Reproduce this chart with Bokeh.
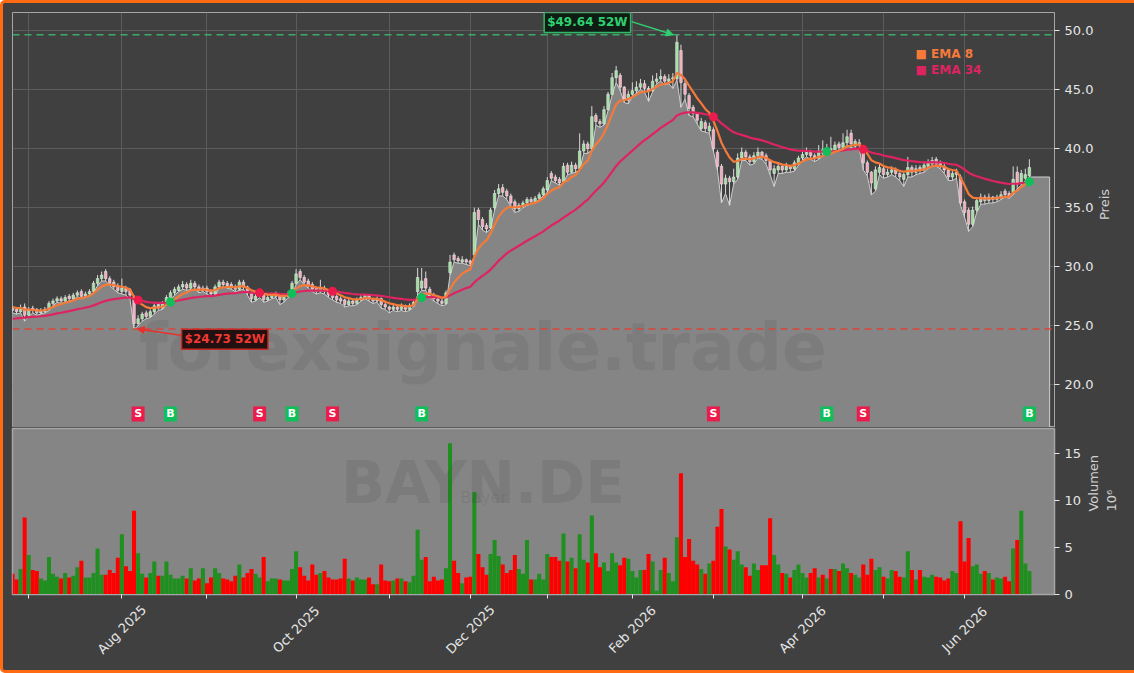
import math
from bokeh.plotting import figure
from bokeh.layouts import column
from bokeh.models import (ColumnDataSource, Range1d, FixedTicker, Span, Label,
                          Arrow, NormalHead, Grid, PrintfTickFormatter)
from bokeh.embed import file_html
from bokeh.resources import INLINE

# ---------------- data ----------------
opens = [
    26.5, 26.4, 26.2, 26.6, 25.9, 26.5, 26.4, 26.1, 26.2, 26.4,
    26.9, 27.1, 27.3, 27.1, 27.5, 27.3, 27.6, 27.9, 27.5, 27.7,
    27.9, 28.6, 29.0, 29.6, 29.0, 28.7, 28.4, 27.9, 28.2, 28.0,
    27.4, 25.2, 25.6, 26.1, 25.8, 26.2, 26.8, 26.5, 26.9, 27.3,
    27.8, 28.0, 28.3, 28.5, 28.2, 28.6, 28.3, 28.0, 28.2, 27.9,
    27.7, 28.3, 28.7, 28.6, 28.5, 28.3, 28.1, 28.7, 28.3, 27.8,
    27.2, 27.5, 27.7, 27.2, 27.4, 27.5, 27.6, 27.2, 27.5, 27.7,
    28.6, 29.6, 29.1, 28.8, 28.5, 28.2, 27.9, 28.2, 27.9, 27.6,
    27.5, 27.3, 27.2, 26.8, 27.1, 26.9, 27.2, 27.4, 27.6, 27.3,
    27.1, 27.3, 26.8, 26.6, 26.4, 26.6, 26.4, 26.7, 26.4, 26.7,
    27.9, 28.2, 29.0, 28.1, 27.6, 27.3, 27.1, 26.9, 29.5, 31.0,
    30.7, 30.4, 30.6, 30.5, 31.0, 34.8, 34.0, 33.5, 33.3, 35.0,
    36.2, 36.7, 36.4, 36.0, 35.5, 34.9, 35.2, 35.4, 35.7, 35.5,
    35.8, 36.1, 36.5, 37.9, 37.6, 37.4, 37.2, 38.6, 38.0, 38.6,
    38.3, 39.8, 40.4, 40.0, 42.8, 42.3, 42.1, 43.3, 44.6, 46.0,
    46.2, 45.2, 44.1, 44.6, 44.9, 45.2, 45.5, 45.1, 44.9, 45.7,
    45.9, 46.1, 45.7, 45.9, 45.9, 48.3, 45.5, 44.5, 43.5, 43.0,
    41.7, 42.2, 41.5, 41.6, 39.7, 38.5, 37.0, 37.5, 37.2, 37.6,
    39.2, 39.7, 39.3, 38.9, 39.4, 39.7, 39.4, 39.0, 37.9, 38.2,
    38.5, 38.2, 38.5, 38.3, 38.8, 39.2, 39.5, 39.7, 39.4, 39.2,
    39.9, 39.6, 40.0, 39.8, 40.4, 40.1, 40.5, 41.3, 40.2, 40.4,
    39.9, 38.8, 38.0, 36.6, 38.0, 38.3, 37.8, 38.0, 38.2, 37.9,
    37.4, 37.8, 38.4, 38.0, 38.4, 38.2, 38.5, 38.7, 39.1, 38.8,
    38.5, 38.2, 37.6, 37.8, 37.6, 35.5, 34.8, 33.6, 34.8, 35.5,
    35.9, 35.6, 35.9, 35.7, 35.9, 36.4, 36.2, 36.2, 38.0, 37.1,
    37.5, 37.7,
]
highs = [
    26.7, 26.6, 26.8, 26.9, 26.6, 26.7, 26.5, 26.5, 26.6, 27.1,
    27.3, 27.5, 27.5, 27.6, 27.7, 27.8, 28.0, 28.1, 27.9, 28.1,
    28.8, 29.3, 29.6, 29.8, 29.2, 28.9, 28.6, 29.0, 28.4, 28.2,
    27.6, 25.9, 26.2, 26.3, 26.4, 26.9, 27.0, 27.1, 27.6, 28.0,
    28.3, 28.5, 28.8, 28.7, 28.9, 28.8, 28.5, 28.4, 28.4, 28.1,
    28.5, 28.9, 28.9, 28.8, 28.7, 28.5, 28.9, 28.9, 28.4, 27.9,
    27.7, 27.9, 27.8, 27.6, 27.8, 27.9, 27.7, 27.7, 27.9, 28.8,
    29.8, 29.8, 29.3, 29.0, 28.7, 28.3, 28.9, 28.4, 28.0, 27.7,
    27.6, 27.5, 27.3, 27.3, 27.2, 27.4, 27.6, 27.7, 27.7, 27.4,
    27.5, 27.4, 27.0, 26.7, 26.8, 26.8, 26.9, 26.8, 26.9, 27.2,
    29.9, 29.9, 29.6, 28.3, 27.8, 27.5, 27.3, 28.0, 31.0, 31.2,
    30.9, 30.9, 30.7, 30.6, 35.0, 35.0, 34.2, 33.7, 35.0, 36.5,
    37.0, 37.0, 36.6, 36.2, 35.7, 35.4, 35.6, 35.9, 35.9, 36.0,
    36.3, 36.8, 37.6, 38.1, 37.8, 37.6, 38.8, 38.8, 38.9, 38.8,
    41.3, 40.7, 40.6, 43.6, 43.0, 42.5, 43.6, 44.8, 46.4, 47.0,
    46.4, 45.3, 44.9, 45.6, 45.7, 45.9, 45.8, 45.3, 46.2, 46.4,
    46.7, 46.3, 46.3, 46.4, 49.64, 48.8, 45.8, 44.7, 43.7, 43.1,
    42.6, 42.4, 42.2, 41.8, 39.9, 38.7, 37.8, 37.7, 38.3, 39.6,
    40.1, 39.9, 39.5, 39.7, 40.1, 39.8, 39.6, 39.1, 38.6, 38.8,
    38.7, 38.8, 38.6, 39.0, 39.4, 39.8, 40.1, 39.9, 39.6, 40.3,
    40.7, 40.4, 41.0, 40.6, 40.6, 41.3, 41.6, 41.6, 40.8, 40.8,
    40.1, 39.0, 38.1, 38.5, 38.7, 38.5, 38.3, 38.5, 38.4, 38.0,
    38.0, 39.3, 38.6, 38.6, 38.6, 38.9, 39.1, 39.3, 39.3, 39.0,
    38.7, 38.3, 38.1, 38.3, 37.8, 35.7, 35.0, 35.1, 35.9, 36.2,
    36.1, 36.2, 36.0, 36.1, 36.4, 36.6, 36.4, 38.5, 38.5, 38.2,
    38.3, 39.1,
]
lows = [
    26.1, 26.0, 26.1, 25.4, 25.8, 26.1, 25.9, 26.0, 26.1, 26.3,
    26.7, 27.0, 26.9, 27.0, 27.1, 27.2, 27.5, 27.3, 27.4, 27.6,
    27.8, 28.4, 28.8, 28.8, 28.4, 28.1, 27.8, 27.7, 27.6, 27.3,
    24.73, 25.0, 25.4, 25.6, 25.7, 26.0, 26.3, 26.4, 26.8, 27.2,
    27.6, 27.9, 28.1, 28.0, 28.1, 28.1, 27.8, 27.9, 27.7, 27.5,
    27.6, 28.2, 28.3, 28.2, 28.1, 27.9, 28.0, 28.1, 27.6, 27.0,
    27.1, 27.4, 27.0, 27.1, 27.3, 27.4, 26.8, 27.0, 27.4, 27.6,
    28.5, 28.9, 28.5, 28.2, 27.9, 27.7, 27.8, 27.7, 27.4, 27.2,
    27.0, 26.9, 26.6, 26.7, 26.7, 26.8, 27.1, 27.3, 27.1, 26.9,
    27.0, 26.5, 26.4, 26.1, 26.3, 26.2, 26.3, 26.2, 26.3, 26.6,
    27.6, 28.0, 28.0, 27.4, 27.1, 26.9, 26.7, 26.8, 29.3, 30.4,
    30.3, 30.3, 30.2, 30.1, 30.9, 33.6, 33.1, 32.9, 33.2, 34.8,
    36.0, 36.0, 35.7, 35.1, 34.6, 34.7, 35.0, 35.2, 35.3, 35.4,
    35.7, 36.0, 36.3, 37.3, 37.1, 36.9, 37.1, 37.8, 37.9, 38.0,
    38.2, 39.6, 39.6, 39.9, 42.0, 41.8, 42.0, 43.2, 44.5, 45.6,
    44.9, 43.9, 43.8, 44.4, 44.7, 45.0, 44.8, 44.0, 44.8, 45.5,
    45.7, 45.4, 45.5, 45.1, 45.8, 43.5, 44.2, 42.8, 42.7, 42.1,
    41.5, 41.4, 41.3, 39.8, 38.2, 35.4, 36.2, 35.2, 37.0, 37.4,
    39.0, 39.0, 38.6, 38.7, 39.2, 39.1, 38.7, 37.8, 36.8, 37.9,
    37.9, 38.0, 38.0, 38.1, 38.6, 39.0, 39.3, 39.1, 38.9, 39.1,
    39.4, 39.5, 39.6, 39.7, 39.9, 40.0, 40.3, 40.1, 40.0, 40.0,
    38.2, 37.7, 36.1, 36.4, 37.8, 37.5, 37.6, 37.8, 37.6, 37.3,
    36.8, 37.6, 37.6, 37.8, 37.9, 38.0, 38.3, 38.5, 38.5, 38.3,
    37.9, 37.3, 37.3, 37.5, 35.2, 34.2, 33.0, 33.4, 34.6, 35.3,
    35.3, 35.4, 35.4, 35.5, 35.7, 35.9, 35.8, 36.1, 36.6, 36.9,
    37.3, 37.6,
]
closes = [
    26.3, 26.2, 26.5, 25.9, 26.4, 26.3, 26.1, 26.3, 26.4, 26.9,
    27.1, 27.3, 27.1, 27.4, 27.3, 27.6, 27.8, 27.5, 27.7, 27.9,
    28.6, 29.0, 29.3, 29.0, 28.6, 28.3, 28.0, 28.2, 27.9, 27.6,
    25.2, 25.6, 26.0, 25.8, 26.2, 26.7, 26.5, 26.9, 27.4, 27.8,
    28.1, 28.3, 28.5, 28.2, 28.6, 28.3, 28.0, 28.2, 27.9, 27.7,
    28.3, 28.7, 28.5, 28.4, 28.3, 28.1, 28.7, 28.3, 27.8, 27.3,
    27.5, 27.7, 27.2, 27.4, 27.6, 27.7, 27.2, 27.5, 27.7, 28.6,
    29.4, 29.1, 28.7, 28.4, 28.1, 27.9, 28.2, 27.9, 27.6, 27.4,
    27.2, 27.1, 26.8, 27.1, 26.9, 27.2, 27.4, 27.6, 27.3, 27.1,
    27.3, 26.8, 26.6, 26.4, 26.6, 26.4, 26.7, 26.4, 26.7, 27.0,
    29.1, 28.8, 28.2, 27.6, 27.3, 27.1, 26.9, 27.8, 30.4, 30.6,
    30.5, 30.6, 30.4, 30.3, 34.6, 34.0, 33.4, 33.2, 34.8, 36.2,
    36.6, 36.3, 36.0, 35.4, 34.9, 35.2, 35.4, 35.7, 35.5, 35.8,
    36.1, 36.6, 37.3, 37.5, 37.3, 37.1, 38.5, 38.0, 38.6, 38.3,
    39.8, 40.4, 40.0, 42.7, 42.3, 42.1, 43.3, 44.6, 46.0, 46.6,
    45.2, 44.2, 44.6, 44.9, 45.2, 45.5, 45.1, 44.9, 45.7, 45.9,
    46.1, 45.7, 45.9, 46.0, 49.0, 45.6, 44.6, 43.4, 43.0, 42.4,
    42.3, 41.7, 41.9, 40.0, 38.5, 37.0, 37.5, 37.2, 37.6, 39.2,
    39.7, 39.3, 38.9, 39.4, 39.7, 39.4, 39.0, 38.2, 38.3, 38.5,
    38.2, 38.5, 38.3, 38.8, 39.2, 39.5, 39.7, 39.4, 39.2, 39.8,
    39.6, 40.0, 39.8, 40.3, 40.1, 40.5, 41.0, 40.4, 40.6, 40.5,
    38.8, 38.0, 37.1, 38.2, 38.4, 37.8, 38.0, 38.2, 37.9, 37.6,
    37.8, 38.4, 38.0, 38.3, 38.2, 38.6, 38.8, 39.0, 38.7, 38.5,
    38.2, 37.6, 37.9, 38.0, 35.4, 34.6, 33.6, 34.8, 35.6, 35.9,
    35.6, 35.9, 35.7, 35.9, 36.1, 36.1, 36.0, 37.4, 37.0, 37.9,
    37.8, 38.4,
]
volumes_mio = [
    2.2, 1.6, 2.7, 8.2, 4.2, 2.6, 2.5, 1.7, 1.5, 4.0,
    2.2, 1.9, 1.7, 2.3, 1.8, 2.0, 2.9, 3.6, 1.8, 1.8,
    2.3, 4.9, 2.1, 2.1, 2.6, 2.3, 3.9, 6.4, 3.0, 2.5,
    8.9, 4.4, 2.2, 1.8, 2.3, 3.5, 2.0, 2.0, 3.5, 2.1,
    1.7, 1.7, 2.0, 1.7, 2.8, 1.5, 1.7, 2.8, 1.2, 1.8,
    2.8, 2.3, 1.7, 1.6, 1.4, 2.0, 3.2, 1.8, 2.3, 2.7,
    2.2, 1.8, 4.0, 1.4, 1.7, 1.7, 1.6, 1.5, 1.5, 2.7,
    4.6, 2.9, 2.0, 1.5, 3.2, 2.1, 2.3, 2.5, 1.8, 1.6,
    1.6, 1.7, 3.8, 1.7, 1.5, 1.8, 1.6, 1.6, 1.8, 1.1,
    1.1, 3.2, 1.5, 1.4, 1.5, 1.7, 1.7, 1.4, 1.3, 2.0,
    6.9, 3.7, 4.0, 1.4, 1.9, 1.5, 1.6, 2.8, 16.1, 3.6,
    2.3, 1.2, 1.8, 1.9, 10.9, 4.3, 2.9, 2.1, 4.3, 5.8,
    4.1, 3.2, 2.3, 2.6, 4.2, 2.7, 2.2, 5.8, 1.6, 1.6,
    2.2, 1.6, 4.3, 4.0, 4.0, 3.6, 6.5, 3.5, 3.9, 2.8,
    6.4, 3.7, 3.4, 8.4, 4.4, 2.9, 3.4, 2.5, 4.4, 3.4,
    3.1, 3.9, 3.8, 2.5, 1.8, 2.6, 2.6, 4.3, 3.5, 0.4,
    2.6, 3.9, 2.3, 1.4, 6.1, 12.9, 4.0, 5.9, 3.6, 3.2,
    2.7, 2.2, 3.3, 3.6, 7.2, 9.1, 5.1, 4.8, 3.7, 4.6,
    3.2, 2.9, 2.0, 3.3, 2.6, 3.1, 3.1, 8.1, 4.2, 3.2,
    2.3, 2.2, 1.8, 2.6, 3.2, 2.3, 1.8, 2.3, 2.8, 1.8,
    2.1, 1.7, 2.7, 2.7, 2.5, 3.3, 2.8, 2.3, 2.1, 1.8,
    3.2, 2.1, 3.8, 2.6, 2.9, 1.9, 1.7, 2.6, 2.5, 1.9,
    1.8, 4.6, 2.6, 1.6, 2.6, 1.9, 1.8, 2.1, 1.9, 1.8,
    1.5, 1.7, 2.5, 2.3, 7.8, 3.5, 6.0, 3.0, 3.2, 2.2,
    2.5, 2.3, 1.6, 1.8, 1.7, 1.9, 1.4, 4.9, 5.8, 8.9,
    3.3, 2.5,
]
# EMA starting levels at the first bar
ema8_start = 26.6
ema34_start = 25.6
# crossover signals (bar index, kind)
signal_index = [31, 39, 61, 69, 79, 101, 173, 201, 210, 251]
signal_kind = ["S", "B", "S", "B", "S", "B", "S", "B", "S", "B"]
# month ticks (bar index of first trading day)
month_major = [27, 70, 113, 153, 195, 235]
month_major_labels = ["Aug 2025", "Oct 2025", "Dec 2025", "Feb 2026", "Apr 2026", "Jun 2026"]
month_minor = [4, 48, 93, 132, 173, 215]
price_ticks = [20, 25, 30, 35, 40, 45, 50]
volume_ticks = [0, 5, 10, 15]

# ---------------- derived ----------------
n = len(closes)
idx = list(range(n))


def ema(vals, span, start):
    a = 2.0 / (span + 1)
    out = [start]
    for v in vals[1:]:
        out.append(a * v + (1 - a) * out[-1])
    return out


ema8 = ema(closes, 8, ema8_start)
ema34 = ema(closes, 34, ema34_start)
up = [c >= o for o, c in zip(opens, closes)]
hi_val = max(highs)
hi_idx = highs.index(hi_val)
lo_val = min(lows)
lo_idx = lows.index(lo_val)

# ---------------- style ----------------
BG = "#404040"
FILL = "#858585"
GRID = "#5c5c5c"
SPINE = "#a6a6a6"
TXT = "#e6e6e6"
FONT = "DejaVu Sans"
ORANGE = "#f57a3a"
CRIMSON = "#de2460"
UP_BODY = "#9be29b"
DN_BODY = "#f6a9bd"
WICK = "#d9d9d9"
VOL_UP = "#1f8f1f"
VOL_DN = "#ff0000"
SIG_S = "#eb1b4b"
SIG_B = "#0fbf5a"

Y0, Y1 = 16.40, 51.52
V0, V1 = 0.0, 17.66
X0, X1 = 0.0, 257.2
TICK_H = 8   # border under the volume frame that holds the tick marks
LBL_H = 68   # height (px) of the strip holding the date labels

src = ColumnDataSource(dict(
    x=idx, high=highs, low=lows,
    top=[max(o, c) for o, c in zip(opens, closes)],
    bottom=[min(o, c) for o, c in zip(opens, closes)],
    body=[UP_BODY if u else DN_BODY for u in up],
    vol=volumes_mio,
    vcol=[VOL_UP if u else VOL_DN for u in up],
))


def style_axis(ax):
    ax.axis_line_color = SPINE
    ax.major_tick_line_color = TXT
    ax.major_tick_in = 0
    ax.major_label_text_color = TXT
    ax.major_label_text_font = FONT
    ax.major_label_text_font_size = "13px"
    ax.axis_label_text_color = "#d0d0d0"
    ax.axis_label_text_font = FONT
    ax.axis_label_text_font_style = "normal"
    ax.axis_label_text_font_size = "13px"


def set_vertical_label(ax):
    try:
        ax.axis_label_orientation = math.pi / 2
    except Exception:
        pass


# ---------------- price panel ----------------
p1 = figure(frame_width=1042, frame_height=415,
            x_range=Range1d(X0, X1), y_range=Range1d(Y0, Y1),
            y_axis_location="right", x_axis_location=None,
            toolbar_location=None, output_backend="svg",
            min_border_left=9, min_border_right=77, min_border_top=9, min_border_bottom=0,
            background_fill_color=BG, border_fill_color=BG,
            outline_line_color=SPINE, outline_line_width=1)
for g in list(p1.xgrid):
    g.visible = False
p1.add_layout(Grid(dimension=0, ticker=FixedTicker(ticks=sorted(month_major + month_minor)),
                   grid_line_color=GRID, grid_line_width=1), "center")
pt = FixedTicker(ticks=price_ticks)
p1.yaxis.ticker = pt
p1.ygrid.ticker = pt
p1.ygrid.grid_line_color = GRID
p1.yaxis.formatter = PrintfTickFormatter(format="%.1f")

# gray area under the price (lows) extending past the last bar
fill_end = X1 - 1.2
fill_x = idx + [fill_end]
fill_y = lows + [lows[-1]]
p1.varea(x=fill_x, y1=Y0 - 5, y2=fill_y, fill_color=FILL)
p1.line(fill_x + [fill_end], fill_y + [Y0 - 5], line_color="#cfcfcf", line_width=1)

# watermark
p1.add_layout(Label(x=116.1, y=23.14, text="forexsignale.trade", text_align="center",
                    text_baseline="alphabetic", text_font=FONT, text_font_style="bold",
                    text_font_size="66px", text_color="#3a3a3a", text_alpha=0.11))

# candles
p1.segment(x0="x", y0="high", x1="x", y1="low", source=src, line_color=WICK, line_width=1)
p1.vbar(x="x", width=0.62, top="top", bottom="bottom", source=src,
        fill_color="body", line_color="#e8e8e8", line_width=0.6)

# EMAs
p1.line(idx, ema34, line_color=CRIMSON, line_width=2.2)
p1.line(idx, ema8, line_color=ORANGE, line_width=2.2)

# crossover dots
sig_col = [SIG_S if k == "S" else SIG_B for k in signal_kind]
p1.scatter(signal_index, [ema34[i] for i in signal_index], size=9,
           fill_color=sig_col, line_color=None)

# S/B markers
marker_level = 17.55
p1.rect(x=signal_index, y=[marker_level] * len(signal_index), width=13, height=15,
        width_units="screen", height_units="screen", fill_color=sig_col, line_color=None)
p1.text(x=signal_index, y=[marker_level] * len(signal_index), text=signal_kind,
        text_align="center", text_baseline="middle", text_color="white",
        text_font_size="11px", text_font_style="bold", text_font={"value": FONT})

# 52W lines
p1.add_layout(Span(location=hi_val, dimension="width", line_color="#3dab68",
                   line_dash="7 5", line_width=1.6))
p1.add_layout(Span(location=lo_val, dimension="width", line_color="#d9443d",
                   line_dash="7 5", line_width=1.6))

# 52W labels + arrows
p1.add_layout(Arrow(end=NormalHead(size=7, fill_color="#2fd06f", line_color="#2fd06f"),
                    x_start=152.8, y_start=50.75, x_end=hi_idx - 0.9, y_end=hi_val,
                    line_color="#2fd06f", line_width=1.5))
p1.add_layout(Label(x=141.9, y=50.68, text=f"${hi_val:.2f} 52W", text_align="center",
                    text_baseline="middle", text_font=FONT, text_font_style="bold",
                    text_font_size="12px", text_color="#2fd06f",
                    background_fill_color="#0c1a12", background_fill_alpha=0.95,
                    border_line_color="#2fb865", border_line_width=1.5, padding=3))
p1.add_layout(Arrow(end=NormalHead(size=7, fill_color="#e8302c", line_color="#e8302c"),
                    x_start=41.6, y_start=24.2, x_end=lo_idx + 0.8, y_end=lo_val,
                    line_color="#e8302c", line_width=1.5))
p1.add_layout(Label(x=52.4, y=23.86, text=f"${lo_val:.2f} 52W", text_align="center",
                    text_baseline="middle", text_font=FONT, text_font_style="bold",
                    text_font_size="12px", text_color="#f03a33",
                    background_fill_color="#1d0a0a", background_fill_alpha=0.95,
                    border_line_color="#c42b26", border_line_width=1.5, padding=3))

# legend
p1.add_layout(Label(x=222.9, y=48.05, text="■ EMA 8", text_baseline="middle",
                    text_font=FONT, text_font_style="bold", text_font_size="12px",
                    text_color=ORANGE))
p1.add_layout(Label(x=222.9, y=46.62, text="■ EMA 34", text_baseline="middle",
                    text_font=FONT, text_font_style="bold", text_font_size="12px",
                    text_color=CRIMSON))

for ax in p1.yaxis:
    style_axis(ax)
    ax.axis_label = "Preis"
    ax.major_tick_out = 5
    ax.minor_tick_line_color = None
    ax.axis_label_standoff = 8
    set_vertical_label(ax)

# ---------------- volume panel ----------------
p2 = figure(frame_width=1042, frame_height=166,
            x_range=p1.x_range, y_range=Range1d(V0, V1),
            y_axis_location="right", x_axis_location="below",
            toolbar_location=None, output_backend="svg",
            min_border_left=9, min_border_right=77, min_border_top=1,
            min_border_bottom=TICK_H,
            background_fill_color=FILL, border_fill_color=BG,
            outline_line_color=SPINE, outline_line_width=1.5)
p2.grid.visible = False
p2.add_layout(Label(x=116.1, y=11.9, text="BAYN.DE", text_align="center",
                    text_baseline="alphabetic", text_font=FONT, text_font_style="bold",
                    text_font_size="58px", text_color="#3a3a3a", text_alpha=0.12))
p2.add_layout(Label(x=116.3, y=10.3, text="Bayer", text_align="center",
                    text_baseline="alphabetic", text_font=FONT,
                    text_font_size="16px", text_color="#3a3a3a", text_alpha=0.12))
p2.vbar(x="x", width=1.0, top="vol", bottom=0, source=src, fill_color="vcol", line_color=None)

for ax in p2.xaxis:
    ax.ticker = FixedTicker(ticks=month_major, minor_ticks=month_minor)
    ax.major_label_overrides = {t: "" for t in month_major}
    ax.major_label_text_font_size = "0px"
    ax.major_label_standoff = 0
    ax.axis_line_color = SPINE
    ax.major_tick_line_color = TXT
    ax.minor_tick_line_color = TXT
    ax.major_tick_out = 4
    ax.minor_tick_out = 4
    ax.major_tick_in = 0
    ax.minor_tick_in = 0

for ax in p2.yaxis:
    style_axis(ax)
    ax.ticker = FixedTicker(ticks=volume_ticks)
    ax.axis_label = "Volumen\n10⁶"
    ax.major_tick_out = 5
    ax.minor_tick_line_color = None
    ax.axis_label_standoff = 18
    set_vertical_label(ax)

# ---------------- date strip (rotated month labels) ----------------
p3 = figure(frame_width=1042, frame_height=LBL_H,
            x_range=p1.x_range, y_range=Range1d(0, LBL_H),
            x_axis_location=None, y_axis_location=None,
            toolbar_location=None, output_backend="svg",
            min_border_left=9, min_border_right=77, min_border_top=0, min_border_bottom=0,
            background_fill_color=BG, border_fill_color=BG, outline_line_color=None)
p3.grid.visible = False
p3.text(x=month_major, y=[LBL_H - (35 - TICK_H)] * len(month_major), text=month_major_labels,
        angle=math.pi / 4, text_align="center", text_baseline="middle",
        text_color=TXT, text_font_size="13px", text_font={"value": FONT})

layout = column(p1, p2, p3, spacing=0,
                styles={"border": "3px solid #ff6a13", "border-radius": "5px",
                        "background-color": BG})

open("out.html", "w").write(file_html(layout, INLINE))
